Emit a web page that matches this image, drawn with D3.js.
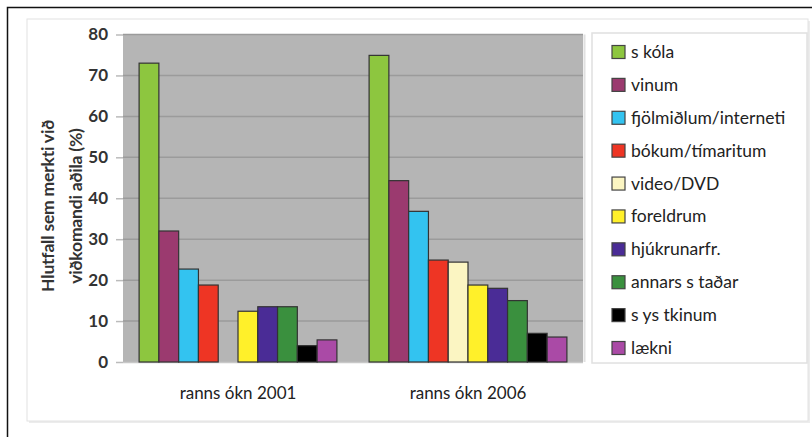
<!DOCTYPE html>
<html><head><meta charset="utf-8">
<script src="https://cdn.jsdelivr.net/npm/d3@7/dist/d3.min.js"></script>
<style>body{margin:0;background:#fff;} svg{display:block;font-family:Lato,"Open Sans",sans-serif;}</style>
</head><body>
<svg id="c" width="812" height="437"></svg>
<script>
const categories = ["ranns ókn 2001", "ranns ókn 2006"];
const seriesNames = ["s kóla", "vinum", "fjölmiðlum/interneti", "bókum/tímaritum", "video/DVD", "foreldrum", "hjúkrunarfr.", "annars  s taðar", "s ys tkinum", "lækni"];
const values2001 = [73, 32, 22.7, 18.8, 0, 12.4, 13.5, 13.5, 4, 5.4];
const values2006 = [74.9, 44.3, 36.8, 24.9, 24.4, 18.8, 18, 15, 7, 6.1];
const yTicks = [0, 10, 20, 30, 40, 50, 60, 70, 80];
const colors = ["#8dc63f", "#9b3a6f", "#33c3f0", "#ee3524", "#fbf5c2", "#fff02a", "#4a2c96", "#3a903e", "#000000", "#aa4aa6"];

const svg = d3.select("#c");
// outer black frame
svg.append("rect").attr("x", 7.5).attr("y", 7.5).attr("width", 900).attr("height", 600)
  .attr("fill", "none").attr("stroke", "#111").attr("stroke-width", 1.5);
// chart box with shadow
svg.append("rect").attr("x", 29).attr("y", 21).attr("width", 781).attr("height", 402).attr("fill", "#ececec");
svg.append("rect").attr("x", 27).attr("y", 19).attr("width", 781).attr("height", 402)
  .attr("fill", "#fff").attr("stroke", "#e2e2e2").attr("stroke-width", 1);

const m = {left: 123, right: 583, top: 34.5, bottom: 362};
const x0 = d3.scaleBand().domain(categories).range([m.left, m.right]).paddingInner(0.14).paddingOuter(0.07);
const x1 = d3.scaleBand().domain(seriesNames).range([0, x0.bandwidth()]);
const y = d3.scaleLinear().domain([0, 80]).range([m.bottom, m.top]);

svg.append("rect").attr("x", m.left).attr("y", m.top).attr("width", m.right - m.left).attr("height", m.bottom - m.top)
  .attr("fill", "#b5b5b5");
svg.append("line").attr("x1", m.right + 1.5).attr("x2", m.right + 1.5).attr("y1", m.top).attr("y2", m.bottom)
  .attr("stroke", "#e0e0e0").attr("stroke-width", 2);

// grid
svg.append("g").selectAll("line").data(yTicks.filter(t => t > 0)).join("line")
  .attr("x1", m.left).attr("x2", m.right).attr("y1", d => y(d)).attr("y2", d => y(d))
  .attr("stroke", "#9b9b9b").attr("stroke-width", 1.5);

// y axis
const ya = svg.append("g").attr("transform", `translate(${m.left},0)`)
  .call(d3.axisLeft(y).tickValues(yTicks).tickSize(7).tickPadding(8));
ya.select(".domain").remove();
ya.selectAll(".tick line").attr("stroke", "#bbb").attr("stroke-width", 1.5);
ya.selectAll(".tick text").attr("fill", "#333").attr("font-size", 17).attr("font-weight", "bold")
  .attr("font-family", "Lato, sans-serif");
// x axis baseline
svg.append("line").attr("x1", m.left).attr("x2", m.right).attr("y1", m.bottom + 0.5).attr("y2", m.bottom + 0.5)
  .attr("stroke", "#c8c8c8").attr("stroke-width", 1.5);

const data = [values2001, values2006];
const g = svg.append("g");
categories.forEach((c, ci) => {
  g.append("g").attr("transform", `translate(${x0(c)},0)`)
    .selectAll("rect").data(seriesNames.map((s, i) => ({s, i, v: data[ci][i]})).filter(d => d.v > 0))
    .join("rect")
    .attr("x", d => x1(d.s)).attr("width", x1.bandwidth())
    .attr("y", d => y(d.v)).attr("height", d => y(0) - y(d.v))
    .attr("fill", d => colors[d.i]).attr("stroke", "#333").attr("stroke-width", 1.2);
  svg.append("text").attr("x", x0(c) + x0.bandwidth() / 2).attr("y", 399).attr("text-anchor", "middle")
    .attr("font-size", 17).attr("fill", "#222").text(c);
});

// y title
const yt = svg.append("text").attr("transform", "translate(0,206) rotate(-90)").attr("text-anchor", "middle")
  .attr("font-size", 17.5).attr("font-weight", "bold").attr("fill", "#333").attr("letter-spacing", -0.2);
yt.append("tspan").attr("x", 0).attr("y", 54).text("Hlutfall sem merkti við");
yt.append("tspan").attr("x", 0).attr("y", 82).text("viðkomandi aðila (%)");

// legend
svg.append("rect").attr("x", 592).attr("y", 33).attr("width", 215).attr("height", 330)
  .attr("fill", "#fff").attr("stroke", "#e0e0e0").attr("stroke-width", 1.5);
const ly = d3.scalePoint().domain(seriesNames).range([52, 348]);
const lg = svg.append("g").selectAll("g").data(seriesNames).join("g")
  .attr("transform", d => `translate(612,${ly(d)})`);
lg.append("rect").attr("x", 0).attr("y", -6.5).attr("width", 13).attr("height", 13)
  .attr("fill", (d, i) => colors[i]).attr("stroke", "#444").attr("stroke-width", 1.2);
lg.append("text").attr("x", 19).attr("y", 6).attr("font-size", 17.5).attr("fill", "#222")
  .text(d => d);
</script>
</body></html>
